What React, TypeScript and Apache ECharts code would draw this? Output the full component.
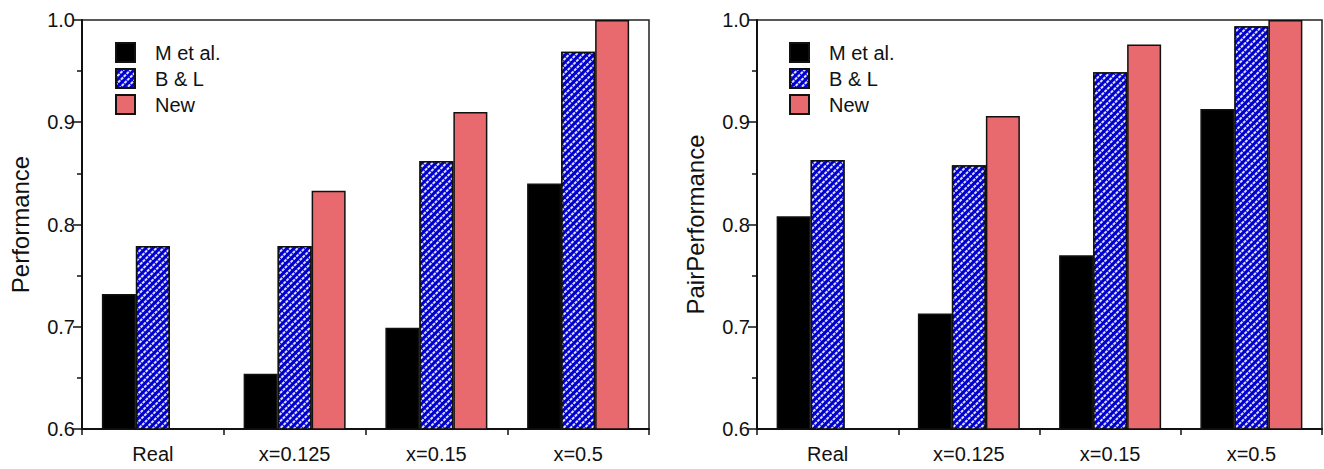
import React, { useEffect, useRef } from "react";
import * as echarts from "echarts";

const categories = ["Real", "x=0.125", "x=0.15", "x=0.5"];
const seriesNames = ["M et al.", "B & L", "New"];
const perfM = [0.732, 0.654, 0.699, 0.84];
const perfB = [0.779, 0.779, 0.862, 0.969];
const perfN = [0.6, 0.833, 0.91, 1.0];
const pairM = [0.808, 0.713, 0.77, 0.913];
const pairB = [0.863, 0.858, 0.949, 0.994];
const pairN = [0.6, 0.906, 0.976, 1.0];
const yTitles = ["Performance", "PairPerformance"];

const FONT = "Liberation Sans, Helvetica, Arial, sans-serif";
const BLACK = "#000000";
const BLUE = "#0000cc";
const RED = "#e86a6f";
const EDGE = "#111111";

export default function App() {
  const ref = useRef<HTMLDivElement>(null);
  useEffect(() => {
    if (!ref.current) return;
    const chart = echarts.init(ref.current, null, { renderer: "svg" });
    const grids = [
      { left: 82, top: 20, width: 567, height: 409 },
      { left: 757, top: 20, width: 565, height: 409 },
    ];
    const decal = {
      symbol: "rect",
      symbolSize: 1,
      color: "rgba(235,235,255,0.95)",
      dashArrayX: [[3, 1]],
      dashArrayY: [1.3, 2.3],
      rotation: -Math.PI / 4,
    };
    const mkSeries = (vals: number[], idx: number, color: string, name: string, withDecal: boolean) => ({
      type: "bar",
      name,
      xAxisIndex: idx,
      yAxisIndex: idx,
      barWidth: 34,
      barGap: "0%",
      z: 3,
      data: vals.map((v) =>
        v <= 0.6 ? { value: v, itemStyle: { borderColor: color, borderWidth: 2 } } : v
      ),
      itemStyle: {
        color,
        borderColor: EDGE,
        borderWidth: 1.5,
        ...(withDecal ? { decal } : {}),
      },
    });
    const sets = [
      [perfM, perfB, perfN],
      [pairM, pairB, pairN],
    ];
    const series: any[] = [];
    sets.forEach((s, i) => {
      series.push(mkSeries(s[0], i, BLACK, seriesNames[0], false));
      series.push(mkSeries(s[1], i, BLUE, seriesNames[1], true));
      series.push(mkSeries(s[2], i, RED, seriesNames[2], false));
    });
    const option: any = {
      animation: false,
      backgroundColor: "#ffffff",
      grid: grids.map((g) => ({
        ...g,
        show: true,
        borderColor: "#222",
        borderWidth: 1.5,
        backgroundColor: "transparent",
      })),
      legend: [
        { left: 110, top: 37 },
        { left: 784, top: 37 },
      ].map((p) => ({
        ...p,
        orient: "vertical",
        data: seriesNames,
        icon: "rect",
        itemWidth: 19,
        itemHeight: 19,
        itemGap: 5,
        selectedMode: false,
        textStyle: { fontFamily: FONT, fontSize: 20, color: "#111", padding: [0, 0, 0, 15] },
      })),
      xAxis: [0, 1].map((i) => ({
        type: "category",
        gridIndex: i,
        data: categories,
        z: 1,
        axisLine: { lineStyle: { color: "#111", width: 2 } },
        axisTick: { show: true, length: 6, lineStyle: { color: "#111", width: 1.5 } },
        axisLabel: { fontFamily: FONT, fontSize: 20, color: "#111", margin: 15 },
        splitLine: { show: false },
      })),
      yAxis: [0, 1].map((i) => ({
        type: "value",
        gridIndex: i,
        min: 0.6,
        max: 1.0,
        interval: 0.1,
        name: yTitles[i],
        nameLocation: "middle",
        nameGap: 50,
        nameTextStyle: { fontFamily: FONT, fontSize: 24, color: "#111" },
        axisLine: { show: true, lineStyle: { color: "#111", width: 2 } },
        axisTick: { show: true, length: 9, lineStyle: { color: "#111", width: 1.5 } },
        minorTick: { show: true, splitNumber: 2, length: 5, lineStyle: { color: "#111", width: 1.5 } },
        axisLabel: {
          fontFamily: FONT,
          fontSize: 20,
          color: "#111",
          margin: 7,
          formatter: (v: number) => v.toFixed(1),
        },
        splitLine: { show: false },
        minorSplitLine: { show: false },
      })),
      series,
    };
    chart.setOption(option);
    return () => chart.dispose();
  }, []);
  return (
    <div
      ref={ref}
      style={{ position: "fixed", left: 0, top: 0, width: 1324, height: 469, background: "#fff" }}
    />
  );
}
